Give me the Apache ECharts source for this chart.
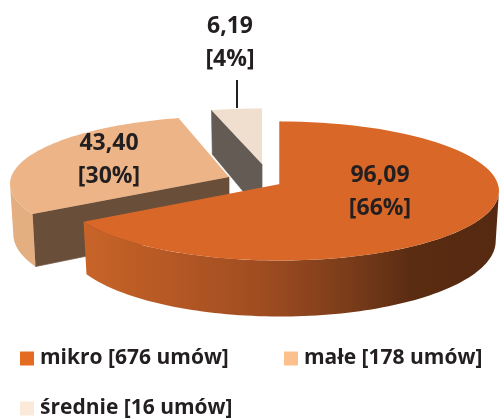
<!DOCTYPE html>
<html>
<head>
<meta charset="utf-8">
<title>Umowy</title>
<script src="https://cdn.jsdelivr.net/npm/echarts@6/dist/echarts.min.js"></script>
<style>
    html, body { margin: 0; padding: 0; background: #fff; }
    #chart { width: 499px; height: 418px; }
</style>
</head>
<body>
<div id="chart"></div>
<script>
var categories = ['mikro', 'małe', 'średnie'];
var contracts = [676, 178, 16];
var values = [96.09, 43.40, 6.19];
var percents = [66, 30, 4];

var topColors = ['#D96727', '#EDB587', '#F0DFCE'];
var legendColors = ['#E46C22', '#FBC08C', '#FBE9D9'];
var wallColors = ['#7A5A44', '#694E3A', '#645C54'];
var sideColors = [null, '#E3AE80', null];

// pie geometry, the exploded slices are moved away from the pie centre
var pieCenter = [280, 184];
var sliceOffsets = [[0, 0], [-51, -7], [-18, -20]];
var sliceSquash = [1, 0.975, 0.9];
var labelPositions = [[380, 191.5], [109, 160], [230, 42.5]];
var radiusX = 219;
var radiusY = 69.5;
var perspectiveShift = 7;
var perspectiveWarp = 7.5 * Math.PI / 180;
var depthBase = 50;
var depthNear = 6;
var bottomShrink = 0.985;

var font = 'bold 23px "Open Sans"';
var textColor = '#231F20';

var total = values.reduce(function (a, b) { return a + b; }, 0);

/**
 * value angle (clockwise from 12 o'clock) to the angle on the drawn ellipse
 */
function warp(angle) {
    return angle - perspectiveWarp * Math.sin(angle);
}

function topPoint(apex, a, squash) {
    return [
        apex[0] + radiusX * Math.sin(a),
        apex[1] + perspectiveShift - radiusY * squash * Math.cos(a)
    ];
}

function lowPoint(apex, a, squash) {
    return [
        apex[0] + radiusX * bottomShrink * Math.sin(a),
        apex[1] + perspectiveShift - radiusY * squash * Math.cos(a) + depthBase - depthNear * Math.cos(a)
    ];
}

function arc(fn, apex, from, to, squash) {
    var pts = [];
    var steps = 90;
    for (var i = 0; i <= steps; i++) {
        pts.push(fn(apex, from + (to - from) * i / steps, squash));
    }
    return pts;
}

function sideFill(index) {
    if (index !== 0) {
        return sideColors[index];
    }
    return new echarts.graphic.LinearGradient(0, 0, 1, 0, [
        {offset: 0, color: '#C86428'},
        {offset: 0.43, color: '#A04C21'},
        {offset: 0.64, color: '#7A3C1A'},
        {offset: 0.79, color: '#5A2C12'},
        {offset: 1, color: '#552A10'}
    ]);
}

function renderSlice(index, value) {
    var before = values.slice(0, index).reduce(function (a, b) { return a + b; }, 0);
    var start = warp(before / total * Math.PI * 2);
    var end = warp((before + value) / total * Math.PI * 2);
    var apex = [pieCenter[0] + sliceOffsets[index][0], pieCenter[1] + sliceOffsets[index][1]];
    var squash = sliceSquash[index];
    var children = [];

    // wall of the cut at the start of the slice
    var first = topPoint(apex, start, squash);
    children.push({
        type: 'polygon',
        shape: {points: [apex, first, lowPoint(apex, start, squash), [apex[0], apex[1] + depthBase]]},
        style: {fill: wallColors[index], stroke: wallColors[index], lineWidth: 0.7}
    });

    // outer side, only the near half of the rim can be seen
    var sideFrom = Math.max(start, Math.PI / 2);
    var sideTo = Math.min(end, Math.PI * 1.5);
    if (sideTo > sideFrom) {
        var points = arc(topPoint, apex, sideFrom, sideTo, squash)
            .concat(arc(lowPoint, apex, sideFrom, sideTo, squash).reverse());
        children.push({
            type: 'polygon',
            shape: {points: points},
            style: {fill: sideFill(index)}
        });
    }

    // top surface
    children.push({
        type: 'polygon',
        shape: {points: [apex].concat(arc(topPoint, apex, start, end, squash))},
        style: {fill: topColors[index]}
    });

    // label
    var pos = labelPositions[index];
    children.push({
        type: 'text',
        z2: 10,
        style: {
            x: pos[0],
            y: pos[1],
            text: value.toFixed(2).replace('.', ',') + '\n[' + percents[index] + '%]',
            font: font,
            lineHeight: 33,
            fill: textColor,
            align: 'center',
            verticalAlign: 'middle'
        }
    });

    // leader line of the small slice
    if (index === 2) {
        children.push({
            type: 'line',
            shape: {x1: 237, y1: 80, x2: 237, y2: 108},
            style: {stroke: textColor, lineWidth: 2}
        });
    }

    return {type: 'group', children: children};
}

function legendName(i) {
    return categories[i] + ' [' + contracts[i] + ' umów]';
}

function buildLegend(i, left, top) {
    return {
        data: [legendName(i)],
        left: left,
        top: top,
        padding: 0,
        icon: 'rect',
        itemWidth: 14,
        itemHeight: 14,
        itemGap: 0,
        selectedMode: false,
        itemStyle: {color: legendColors[i], borderWidth: 0},
        textStyle: {
            fontFamily: 'Open Sans',
            fontWeight: 'bold',
            fontSize: 21,
            color: textColor,
            padding: [0, 0, 0, 1]
        }
    };
}

var myChart = echarts.init(document.getElementById('chart'));
var seriesList = [];
// far slices first, the big slice covers their lower parts
[2, 1, 0].forEach(function (i) {
    seriesList.push({
        type: 'custom',
        name: legendName(i),
        coordinateSystem: 'none',
        silent: true,
        animation: false,
        data: [[values[i]]],
        renderItem: function (params, api) {
            return renderSlice(i, api.value(0));
        }
    });
});

var option = {
    animation: false,
    legend: [
        buildLegend(0, 20, 348),
        buildLegend(1, 284, 348),
        buildLegend(2, 20, 398)
    ],
    series: seriesList
};
myChart.setOption(option, true);
</script>
</body>
</html>
